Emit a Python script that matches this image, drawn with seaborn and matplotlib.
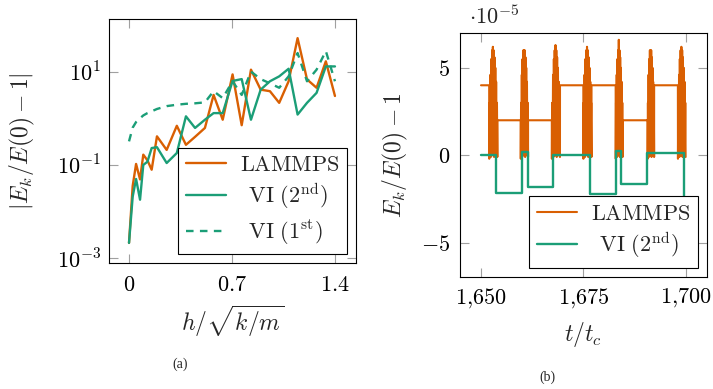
import numpy as np
import pandas as pd
import matplotlib
matplotlib.use("Agg")
import matplotlib.pyplot as plt
from matplotlib.ticker import FixedLocator, FixedFormatter, NullLocator
import seaborn as sns

# ---------------- data: panel (a) ----------------
h_values = [0.0, 0.025, 0.048, 0.075, 0.097, 0.125, 0.154, 0.19, 0.256, 0.325,
            0.387, 0.449, 0.516, 0.575, 0.637, 0.704, 0.766, 0.829, 0.895, 0.958,
            1.021, 1.085, 1.146, 1.21, 1.275, 1.338, 1.4]
err_lammps = [0.00214, 0.0355, 0.105, 0.049, 0.166, 0.126, 0.079, 0.41, 0.21, 0.69,
              0.27, 0.40, 0.62, 3.16, 0.93, 8.7, 0.71, 11.0, 4.1, 3.8,
              2.14, 6.2, 52.0, 6.8, 4.5, 16.6, 3.0]
err_vi2 = [0.00214, 0.021, 0.05, 0.018, 0.10, 0.117, 0.23, 0.24, 0.11, 0.18,
           1.1, 0.62, 0.93, 1.29, 1.29, 6.3, 6.9, 0.93, 4.1, 6.2,
           7.9, 11.5, 1.2, 2.14, 3.5, 12.9, 12.9]
err_vi1 = [0.32, 0.63, 0.83, 1.0, 1.15, 1.29, 1.41, 1.58, 1.82, 1.95,
           2.04, 2.09, 2.19, 3.8, 2.7, 6.2, 3.16, 10.0, 6.9, 5.6,
           4.5, 7.9, 25.0, 6.2, 11.0, 27.5, 6.2]
xticks_a = [0, 0.7, 1.4]
xticklabels_a = ["$0$", "$0.7$", "$1.4$"]
yticks_a = [1e-3, 1e-1, 1e1]
yticklabels_a = ["$10^{-3}$", "$10^{-1}$", "$10^{1}$"]

# ---------------- data: panel (b) (units of 1e-5) ----------------
vi2_t = [1650.0, 1653.6, 1659.9, 1661.4, 1667.6, 1676.6, 1682.9, 1684.3, 1690.6, 1699.6, 1700.0]
vi2_e = [0.0, -2.15, 0.18, -1.8, 0.03, -2.2, 0.22, -1.65, 0.12, -2.6, -2.6]

lammps_levels = [4.0, 2.0, 2.0, 4.0, 4.0, 2.0, 4.0]
burst_start = [1652.0, 1659.7, 1667.3, 1675.0, 1682.9, 1690.7, 1698.1]
burst_end = [1654.0, 1661.5, 1669.3, 1677.0, 1684.6, 1692.3, 1700.0]
burst_peak = [6.2, 6.0, 6.3, 6.2, 6.6, 6.0, 6.2]
burst_frac = [0.01, 0.05, 0.10, 0.15, 0.20, 0.25, 0.30, 0.35, 0.40, 0.45,
              0.50, 0.55, 0.60, 0.65, 0.70, 0.75, 0.80, 0.85, 0.90, 0.95, 0.995]
burst_vals = [-0.2, 3.0, 0.1, 4.6, -0.1, 5.5, 0.2, 6.0, 0.0, None,
              0.3, 6.0, -0.1, 5.6, 0.2, 5.0, 0.0, 4.2, 0.1, 3.0, -0.1]

xticks_b = [1650, 1675, 1700]
xticklabels_b = ["$1{,}650$", "$1{,}675$", "$1{,}700$"]
yticks_b = [-5, 0, 5]
yticklabels_b = ["$-5$", "$0$", "$5$"]

# build LAMMPS series from the read segments
lam_t, lam_e = [], []
for i, level in enumerate(lammps_levels):
    seg_start = 1650.0 if i == 0 else burst_end[i - 1]
    lam_t += [seg_start, burst_start[i]]
    lam_e += [level, level]
    width = burst_end[i] - burst_start[i]
    for f, v in zip(burst_frac, burst_vals):
        lam_t.append(burst_start[i] + f * width)
        lam_e.append(burst_peak[i] if v is None else v)

# ---------------- style ----------------
sns.set_theme(style="white")
plt.rcParams["font.family"] = "serif"
plt.rcParams["font.serif"] = ["cmr10", "DejaVu Serif"]
plt.rcParams["mathtext.fontset"] = "cm"
plt.rcParams["axes.formatter.use_mathtext"] = True

ORANGE = "#d95f02"
GREEN = "#1b9e77"
FS = 16

fig = plt.figure(figsize=(7.13, 3.89), dpi=100)
W, H = 713.0, 389.0
ax1 = fig.add_axes([109.3 / W, 1 - 263.3 / H, 246.4 / W, 244.0 / H])
ax2 = fig.add_axes([460.0 / W, 1 - 276.7 / H, 246.7 / W, 243.4 / H])

df_a = pd.DataFrame({"h": h_values, "lammps": err_lammps, "vi2": err_vi2, "vi1": err_vi1})
sns.lineplot(data=df_a, x="h", y="lammps", ax=ax1, color=ORANGE, lw=1.7,
             estimator=None, sort=False, label=r"$\mathrm{LAMMPS}$")
sns.lineplot(data=df_a, x="h", y="vi2", ax=ax1, color=GREEN, lw=1.7,
             estimator=None, sort=False, label=r"$\;\,\mathrm{VI}\ (2^{\mathrm{nd}})$")
sns.lineplot(data=df_a, x="h", y="vi1", ax=ax1, color=GREEN, lw=1.7,
             linestyle=(0, (3.2, 2.7)),
             estimator=None, sort=False, label=r"$\;\,\mathrm{VI}\ (1^{\mathrm{st}})$")
ax1.set_yscale("log")
ax1.set_xlim(-0.134, 1.541)
ax1.set_ylim(10 ** -3.107, 10 ** 2.12)
ax1.xaxis.set_major_locator(FixedLocator(xticks_a))
ax1.xaxis.set_major_formatter(FixedFormatter(xticklabels_a))
ax1.yaxis.set_major_locator(FixedLocator(yticks_a))
ax1.yaxis.set_major_formatter(FixedFormatter(yticklabels_a))
ax1.yaxis.set_minor_locator(NullLocator())
ax1.xaxis.set_minor_locator(NullLocator())

df_b1 = pd.DataFrame({"t": lam_t, "e": lam_e})
df_b2 = pd.DataFrame({"t": vi2_t, "e": vi2_e})
sns.lineplot(data=df_b1, x="t", y="e", ax=ax2, color=ORANGE, lw=1.5,
             estimator=None, sort=False, label=r"$\mathrm{LAMMPS}$")
sns.lineplot(data=df_b2, x="t", y="e", ax=ax2, color=GREEN, lw=1.7,
             drawstyle="steps-post",
             estimator=None, sort=False, label=r"$\;\,\mathrm{VI}\ (2^{\mathrm{nd}})$")
ax2.set_xlim(1644.87, 1705.14)
ax2.set_ylim(-6.94, 6.97)
ax2.xaxis.set_major_locator(FixedLocator(xticks_b))
ax2.xaxis.set_major_formatter(FixedFormatter(xticklabels_b))
ax2.yaxis.set_major_locator(FixedLocator(yticks_b))
ax2.yaxis.set_major_formatter(FixedFormatter(yticklabels_b))
ax2.text(0.036, 1.038, r"$\cdot 10^{-5}$", transform=ax2.transAxes,
         fontsize=FS, ha="left", va="baseline")

for ax in (ax1, ax2):
    for sp in ax.spines.values():
        sp.set_color("black")
        sp.set_linewidth(0.8)
    ax.tick_params(which="major", direction="in", top=True, right=True,
                   bottom=True, left=True, length=6.5, width=0.8,
                   color="#a0a0a0", labelsize=FS, labelcolor="black")
    ax.set_xlabel("")
    ax.set_ylabel("")
    leg = ax.legend(loc="lower right", fontsize=FS, frameon=True, fancybox=False,
                    framealpha=1.0, edgecolor="black", borderaxespad=0.4,
                    handlelength=1.8, handletextpad=0.6, labelspacing=0.3,
                    borderpad=0.35)
    leg.get_frame().set_linewidth(0.8)

ax1.tick_params(axis="x", pad=9)
ax1.tick_params(axis="y", pad=6)
ax2.tick_params(axis="x", pad=7)
ax2.tick_params(axis="y", pad=7)

ax1.set_ylabel(r"$|E_k/E(0)-1|$", fontsize=17)
ax1.yaxis.set_label_coords(-0.295, 0.5)
ax1.set_xlabel(r"$h/\sqrt{k/m}$", fontsize=17)
ax1.xaxis.set_label_coords(0.5, -0.163)
ax2.set_ylabel(r"$E_k/E(0)-1$", fontsize=17)
ax2.yaxis.set_label_coords(-0.203, 0.5)
ax2.set_xlabel(r"$t/t_c$", fontsize=17)
ax2.xaxis.set_label_coords(0.5, -0.178)

fig.text(180.5 / W, 1 - 364 / H, "(a)", ha="center", va="center",
         fontsize=10, family="Liberation Serif")
fig.text(547 / W, 1 - 377 / H, "(b)", ha="center", va="center",
         fontsize=10, family="Liberation Serif")

fig.savefig("out.png", dpi=100)
